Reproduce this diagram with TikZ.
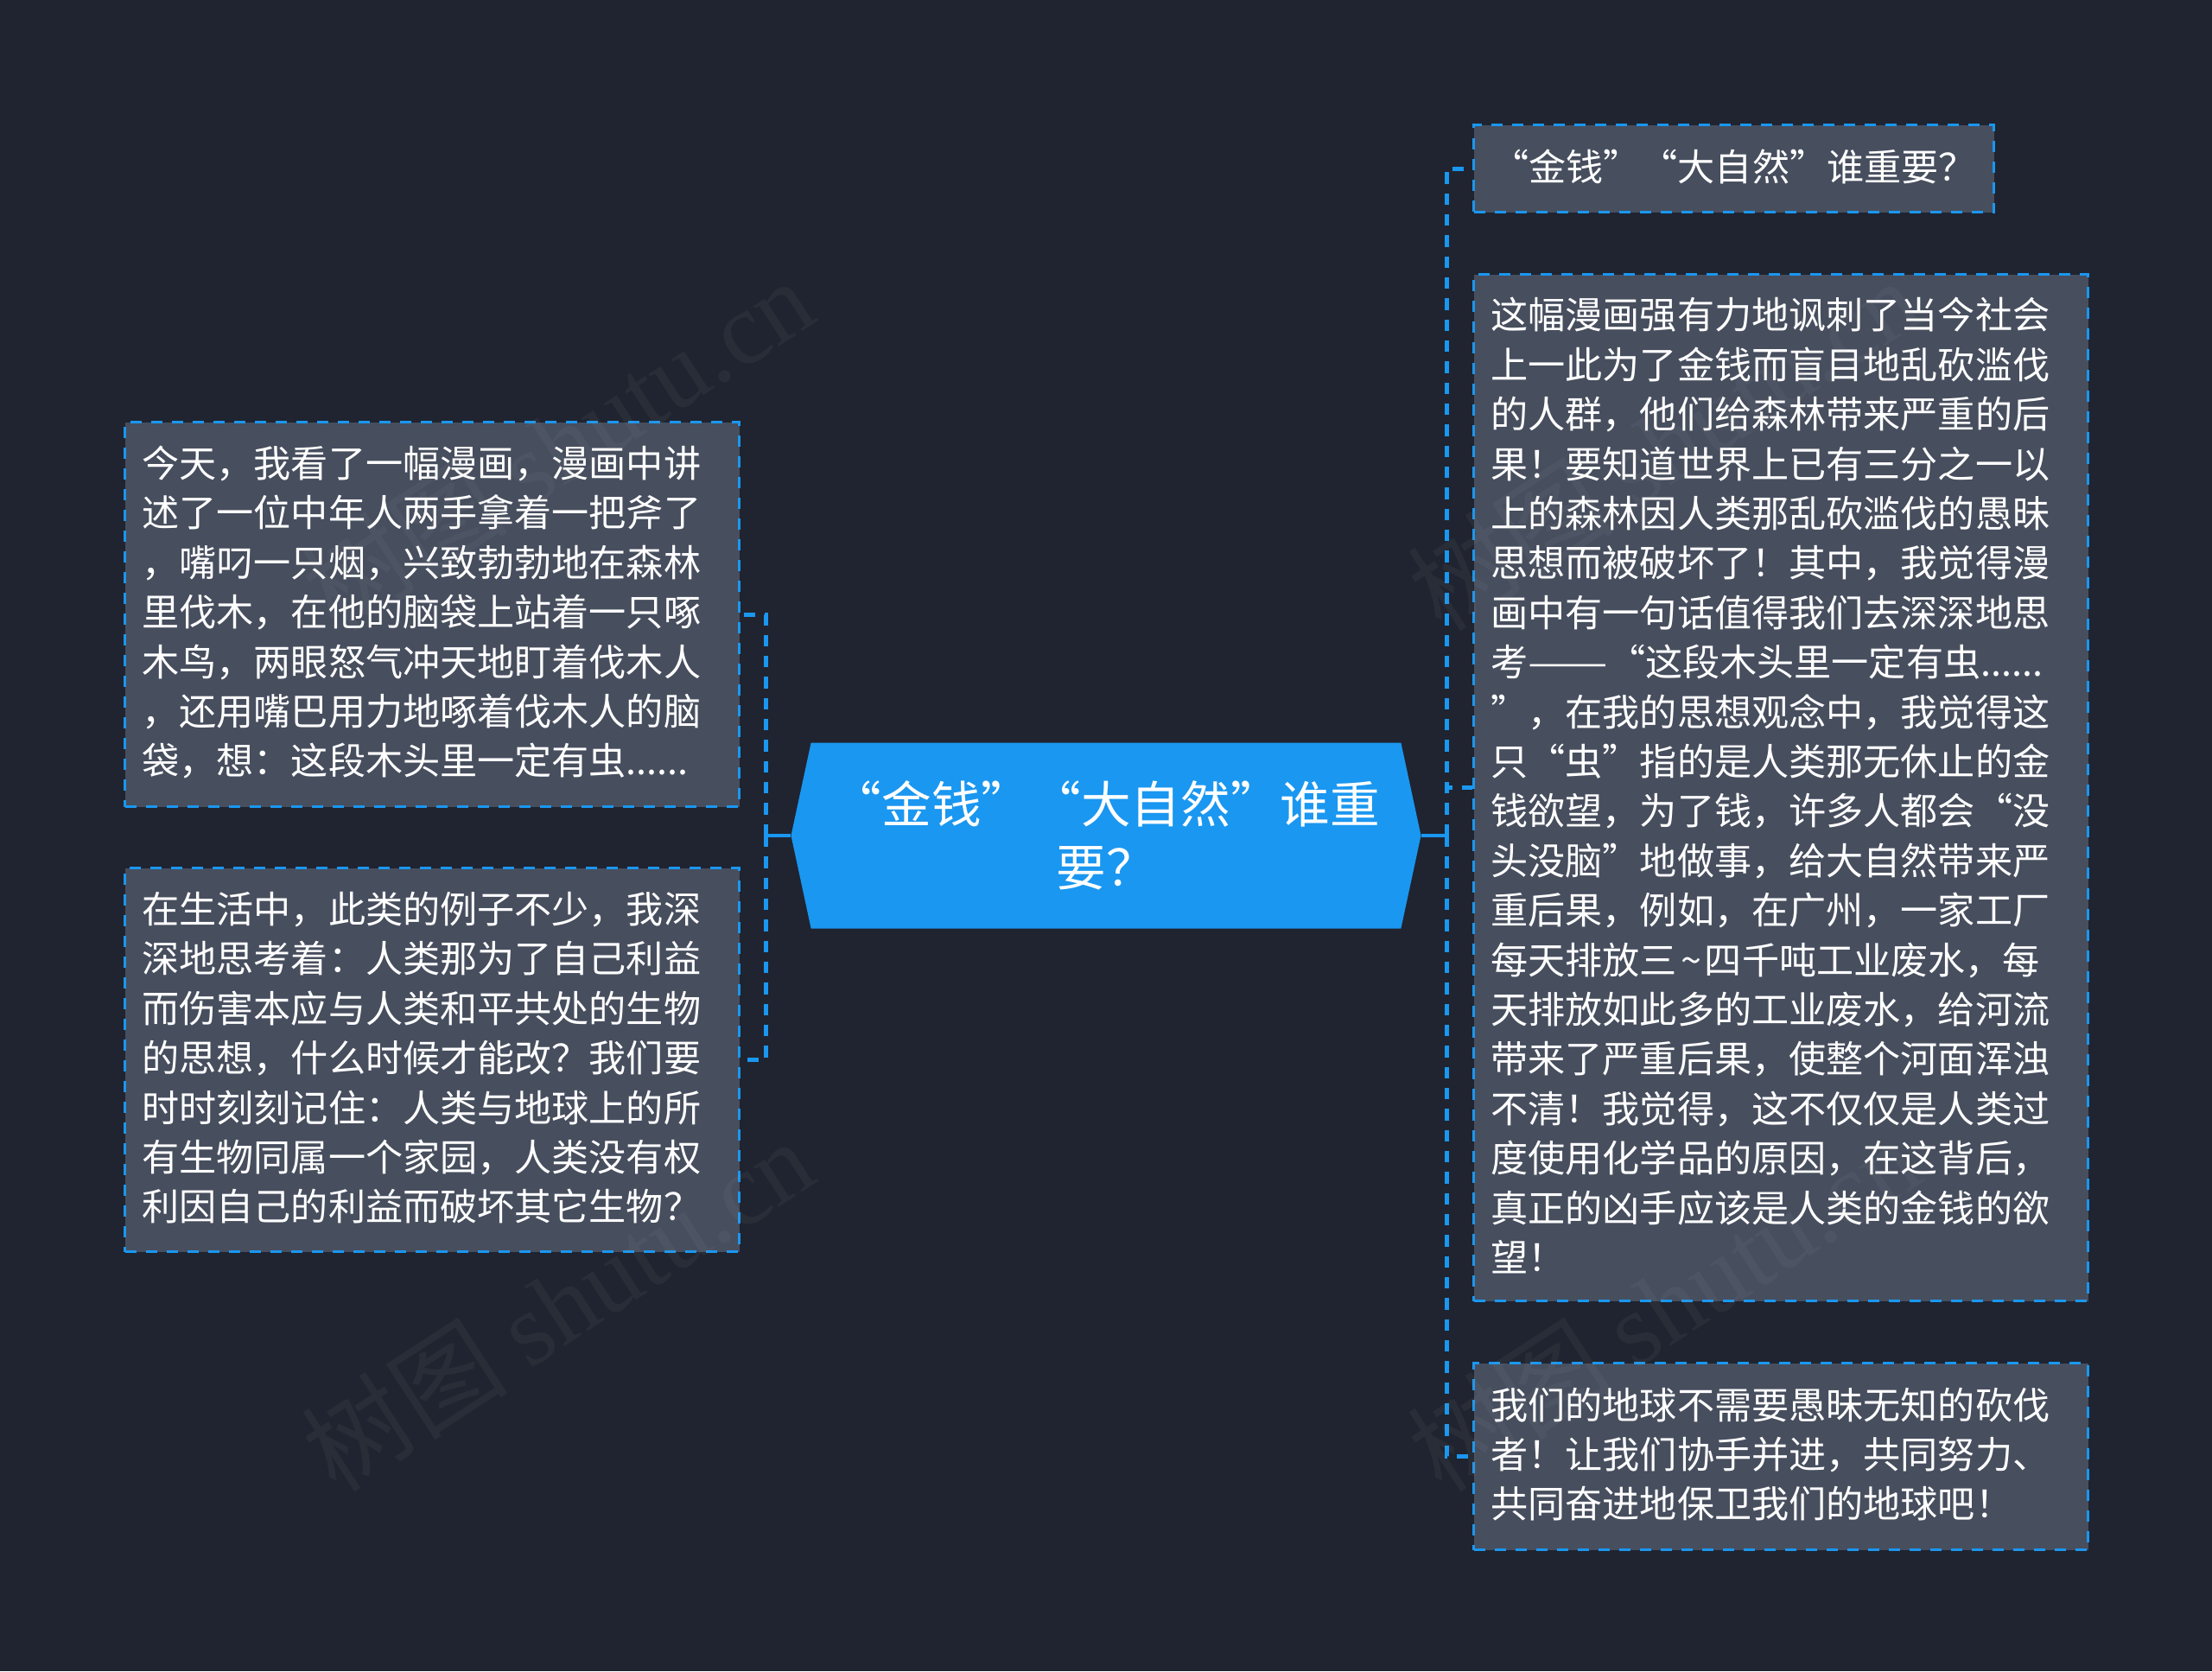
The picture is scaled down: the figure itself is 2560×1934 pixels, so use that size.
\documentclass[tikz,border=0pt]{standalone}
\usepackage{fontspec}
\usepackage{graphicx}
\usepackage{tikz}
\usetikzlibrary{shapes.symbols}
\setmainfont{Noto Sans CJK SC}
\newfontfamily\latinmark{Liberation Serif}
\definecolor{pagebg}{HTML}{1F2430}
\definecolor{boxbg}{HTML}{474E5E}
\definecolor{linkblue}{HTML}{1A97F0}
\tikzset{
    notebox/.style={draw=linkblue, fill=boxbg, line width=0.09cm, dash pattern=on 0.39cm off 0.33cm,
        anchor=north west, inner xsep=0.6cm, inner ysep=0pt, text width=20.13cm, align=left, text=white,
        font=\fontsize{36.8pt}{49pt}\selectfont, execute at end node={\par\vspace*{4pt}}},
    link/.style={draw=linkblue, line width=0.15cm, dash pattern=on 0.4cm off 0.33cm},
    stub/.style={draw=linkblue, line width=0.13cm},
    watermark/.style={rotate=33, text=gray!70, opacity=0.07, font=\fontsize{102pt}{102pt}\selectfont}
}
\begin{document}
\begin{tikzpicture}[x=0.03cm, y=-0.03cm]
    \useasboundingbox[fill=pagebg] (0, 0) rectangle (2560, 1934);

    % Centre topic
    \node[signal, signal to=east and west, signal pointer angle=155.7, fill=linkblue, text=white, align=center,
        minimum width=21.87cm, minimum height=6.45cm, inner sep=0pt,
        font=\fontsize{49.2pt}{62.4pt}\selectfont] (topic) at (1280, 967) {“金钱”“大自然”谁重\\要？};

    % Left notes
    \node[notebox, minimum height=13.35cm] (noteA) at (143, 487) {今天，我看了一幅漫画，漫画中讲\\述了一位中年人两手拿着一把斧了\\，嘴叼一只烟，兴致勃勃地在森林\\里伐木，在他的脑袋上站着一只啄\\木鸟，两眼怒气冲天地盯着伐木人\\，还用嘴巴用力地啄着伐木人的脑\\袋，想：这段木头里一定有虫......};
    \node[notebox, minimum height=13.32cm] (noteB) at (143, 1003) {在生活中，此类的例子不少，我深\\深地思考着：人类那为了自己利益\\而伤害本应与人类和平共处的生物\\的思想，什么时候才能改？我们要\\时时刻刻记住：人类与地球上的所\\有生物同属一个家园，人类没有权\\利因自己的利益而破坏其它生物？};

    % Right notes
    \node[notebox, text width=16.86cm, minimum height=3.03cm, align=center] (noteC) at (1704, 143) {“金钱”“大自然”谁重要？};
    \node[notebox, minimum height=35.64cm] (noteD) at (1704, 316) {这幅漫画强有力地讽刺了当今社会\\上一此为了金钱而盲目地乱砍滥伐\\的人群，他们给森林带来严重的后\\果！要知道世界上已有三分之一以\\上的森林因人类那乱砍滥伐的愚昧\\思想而被破坏了！其中，我觉得漫\\画中有一句话值得我们去深深地思\\考\scalebox{1.28}[1]{——}“这段木头里一定有虫......\\”，在我的思想观念中，我觉得这\\只“虫”指的是人类那无休止的金\\钱欲望，为了钱，许多人都会“没\\头没脑”地做事，给大自然带来严\\重后果，例如，在广州，一家工厂\\每天排放三\kern3.4pt\char`\~\kern3.4pt 四千吨工业废水，每\\天排放如此多的工业废水，给河流\\带来了严重后果，使整个河面浑浊\\不清！我觉得，这不仅仅是人类过\\度使用化学品的原因，在这背后，\\真正的凶手应该是人类的金钱的欲\\望！};
    \node[notebox, minimum height=6.48cm] (noteE) at (1704, 1576) {我们的地球不需要愚昧无知的砍伐\\者！让我们协手并进，共同努力、\\共同奋进地保卫我们的地球吧！};

    % Connectors
    \coordinate (busL) at (886, 967);
    \coordinate (busR) at (1674, 967);
    \draw[stub] (topic.west) -- (busL);
    \draw[stub] (topic.east) -- (busR);
    \draw[link] (busL) |- (noteA.east);
    \draw[link] (busL) |- (noteB.east);
    \draw[link] (busR) |- (noteC.west);
    \draw[link] (busR) |- (noteD.west);
    \draw[link] (busR) |- (noteE.west);

    % Watermark
    \foreach \wx/\wy [count=\wi] in {645/514, 645/1510, 1925/514, 1925/1510} {
        \node[watermark] (mark\wi) at (\wx, \wy) {树图 {\latinmark shutu.cn}};
    }
\end{tikzpicture}
\end{document}
